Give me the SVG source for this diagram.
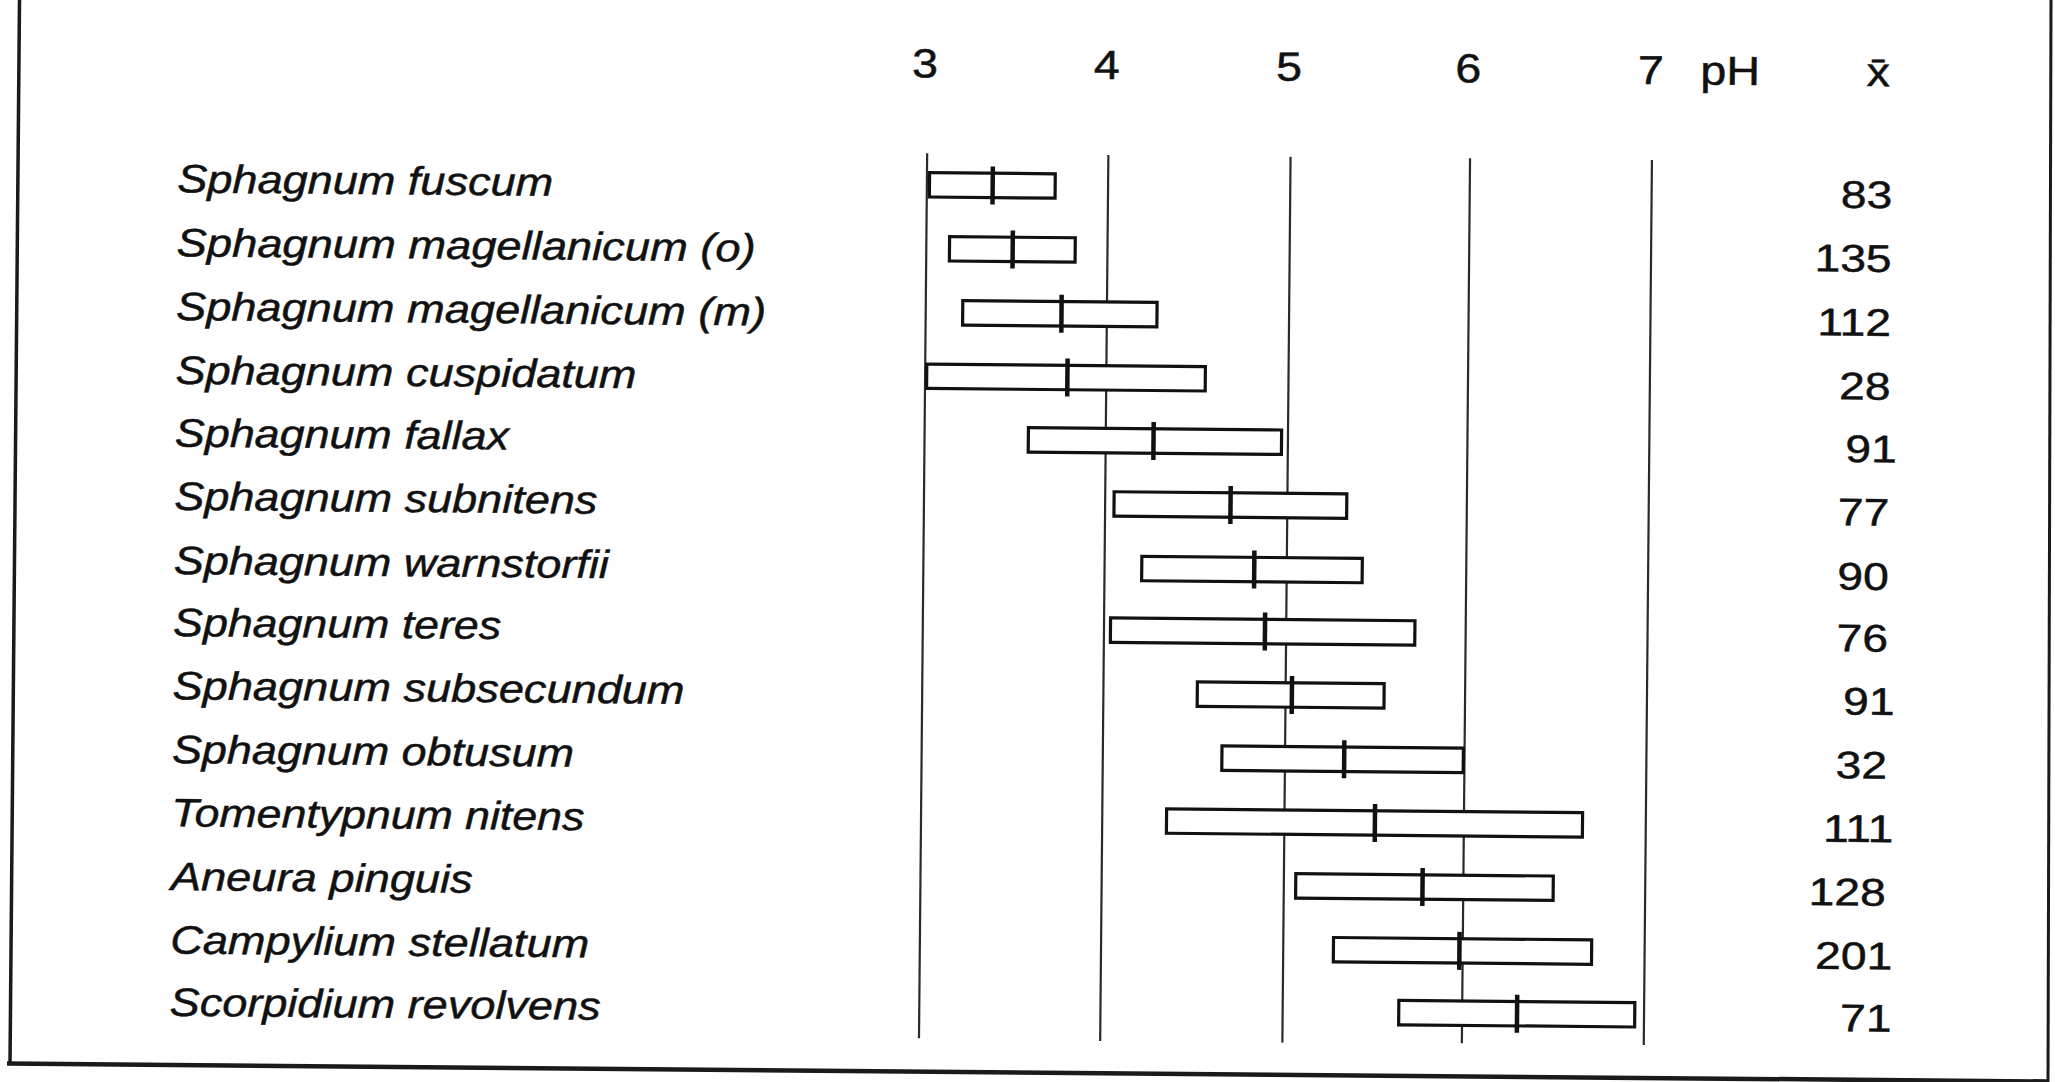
<svg xmlns="http://www.w3.org/2000/svg" width="2055" height="1082" viewBox="0 0 2055 1082">
<style>
.lbl{font-family:"Liberation Sans",Arial,sans-serif;font-style:italic;font-size:39.5px;fill:#111;stroke:#111;stroke-width:0.5}
.num{font-family:"Liberation Sans",Arial,sans-serif;font-size:38.5px;fill:#111;stroke:#111;stroke-width:0.5;text-anchor:end}
.hdr{font-family:"Liberation Sans",Arial,sans-serif;font-size:40.5px;fill:#111;stroke:#111;stroke-width:0.5;text-anchor:middle}
.box{fill:#fff;stroke:#111;stroke-width:3.2}
.med{stroke:#111;stroke-width:4.5}
.grid{stroke:#2a2a2a;stroke-width:2.2}
.frame{stroke:#1a1a1a;fill:none}
</style>
<rect x="0" y="0" width="2055" height="1082" fill="#fff"/>
<g id="frame">
<line class="frame" x1="19.5" y1="0" x2="10" y2="1064" stroke-width="3.5"/>
<line class="frame" x1="7" y1="1063.5" x2="2048" y2="1081.5" stroke-width="4.5"/>
<line class="frame" x1="2051" y1="0" x2="2048" y2="1082" stroke-width="3"/>
</g>
<g transform="rotate(0.53 1000 540)">
<g id="axis-header">
<text class="hdr" transform="translate(920.7,78) scale(1.15,1)">3</text>
<text class="hdr" transform="translate(1102.4,78) scale(1.15,1)">4</text>
<text class="hdr" transform="translate(1284.8,78) scale(1.15,1)">5</text>
<text class="hdr" transform="translate(1464,78) scale(1.15,1)">6</text>
<text class="hdr" transform="translate(1646.5,78) scale(1.15,1)">7</text>
<text class="hdr" transform="translate(1725.8,78) scale(1.15,1)">pH</text>
<text class="hdr" transform="translate(1874,78) scale(1.15,1)">x̄</text>
</g>
<g id="connectors">
<line class="grid" x1="923.6" y1="154" x2="923.6" y2="1039"/>
<line class="grid" x1="1104.8" y1="154" x2="1104.8" y2="1040"/>
<line class="grid" x1="1287" y1="154" x2="1287" y2="1040"/>
<line class="grid" x1="1466.5" y1="154" x2="1466.5" y2="1039"/>
<line class="grid" x1="1648.4" y1="154" x2="1648.4" y2="1039"/>
</g>
<g id="row1">
<text class="lbl" x="174" y="200" textLength="376" lengthAdjust="spacingAndGlyphs">Sphagnum fuscum</text>
<rect class="box" x="926.2" y="173.3" width="125.7" height="24.4"/>
<line class="med" x1="989.4" y1="166.5" x2="989.4" y2="204.5"/>
<text class="num" transform="translate(1889,200) scale(1.2,1)">83</text>
</g>
<g id="row2">
<text class="lbl" x="174" y="263.8" textLength="579" lengthAdjust="spacingAndGlyphs">Sphagnum magellanicum (o)</text>
<rect class="box" x="946.8" y="237.1" width="125.7" height="24.4"/>
<line class="med" x1="1010" y1="230.3" x2="1010" y2="268.3"/>
<text class="num" transform="translate(1889,263.8) scale(1.2,1)">135</text>
</g>
<g id="row3">
<text class="lbl" x="174" y="327.7" textLength="590" lengthAdjust="spacingAndGlyphs">Sphagnum magellanicum (m)</text>
<rect class="box" x="960.6" y="301" width="194.3" height="24.4"/>
<line class="med" x1="1059.4" y1="294.2" x2="1059.4" y2="332.2"/>
<text class="num" transform="translate(1889,327.7) scale(1.2,1)">112</text>
</g>
<g id="row4">
<text class="lbl" x="174" y="391.4" textLength="461" lengthAdjust="spacingAndGlyphs">Sphagnum cuspidatum</text>
<rect class="box" x="925.2" y="364.7" width="278.6" height="24.4"/>
<line class="med" x1="1065.9" y1="357.9" x2="1065.9" y2="395.9"/>
<text class="num" transform="translate(1889,391.4) scale(1.2,1)">28</text>
</g>
<g id="row5">
<text class="lbl" x="174" y="454.1" textLength="334" lengthAdjust="spacingAndGlyphs">Sphagnum fallax</text>
<rect class="box" x="1027.4" y="427.4" width="253.2" height="24.4"/>
<line class="med" x1="1152.6" y1="420.6" x2="1152.6" y2="458.6"/>
<text class="num" transform="translate(1896,454.1) scale(1.2,1)">91</text>
</g>
<g id="row6">
<text class="lbl" x="174" y="517.4" textLength="423" lengthAdjust="spacingAndGlyphs">Sphagnum subnitens</text>
<rect class="box" x="1113.7" y="490.7" width="232.7" height="24.4"/>
<line class="med" x1="1230.2" y1="483.9" x2="1230.2" y2="521.9"/>
<text class="num" transform="translate(1889,517.4) scale(1.2,1)">77</text>
</g>
<g id="row7">
<text class="lbl" x="174" y="581.7" textLength="435" lengthAdjust="spacingAndGlyphs">Sphagnum warnstorfii</text>
<rect class="box" x="1142" y="555" width="220.5" height="24.4"/>
<line class="med" x1="1254.5" y1="548.2" x2="1254.5" y2="586.2"/>
<text class="num" transform="translate(1889,581.7) scale(1.2,1)">90</text>
</g>
<g id="row8">
<text class="lbl" x="174" y="643.6" textLength="328" lengthAdjust="spacingAndGlyphs">Sphagnum teres</text>
<rect class="box" x="1111.3" y="616.9" width="304.4" height="24.4"/>
<line class="med" x1="1265.8" y1="610.1" x2="1265.8" y2="648.1"/>
<text class="num" transform="translate(1889,643.6) scale(1.2,1)">76</text>
</g>
<g id="row9">
<text class="lbl" x="174" y="706.8" textLength="512" lengthAdjust="spacingAndGlyphs">Sphagnum subsecundum</text>
<rect class="box" x="1198.7" y="680.1" width="186.8" height="24.4"/>
<line class="med" x1="1293.3" y1="673.3" x2="1293.3" y2="711.3"/>
<text class="num" transform="translate(1896,706.8) scale(1.2,1)">91</text>
</g>
<g id="row10">
<text class="lbl" x="174" y="770.6" textLength="402" lengthAdjust="spacingAndGlyphs">Sphagnum obtusum</text>
<rect class="box" x="1223.9" y="743.9" width="241.4" height="24.4"/>
<line class="med" x1="1346.2" y1="737.1" x2="1346.2" y2="775.1"/>
<text class="num" transform="translate(1889,770.6) scale(1.2,1)">32</text>
</g>
<g id="row11">
<text class="lbl" x="174" y="834" textLength="413" lengthAdjust="spacingAndGlyphs">Tomentypnum nitens</text>
<rect class="box" x="1169.1" y="807.3" width="416" height="24.4"/>
<line class="med" x1="1377.5" y1="800.5" x2="1377.5" y2="838.5"/>
<text class="num" transform="translate(1896,834) scale(1.2,1)">111</text>
</g>
<g id="row12">
<text class="lbl" x="174" y="897.6" textLength="302" lengthAdjust="spacingAndGlyphs">Aneura pinguis</text>
<rect class="box" x="1298.9" y="870.9" width="257.5" height="24.4"/>
<line class="med" x1="1425.7" y1="864.1" x2="1425.7" y2="902.1"/>
<text class="num" transform="translate(1889,897.6) scale(1.2,1)">128</text>
</g>
<g id="row13">
<text class="lbl" x="174" y="961.1" textLength="419" lengthAdjust="spacingAndGlyphs">Campylium stellatum</text>
<rect class="box" x="1337.2" y="934.4" width="258.2" height="24.4"/>
<line class="med" x1="1463.2" y1="927.6" x2="1463.2" y2="965.6"/>
<text class="num" transform="translate(1896,961.1) scale(1.2,1)">201</text>
</g>
<g id="row14">
<text class="lbl" x="174" y="1023.4" textLength="431" lengthAdjust="spacingAndGlyphs">Scorpidium revolvens</text>
<rect class="box" x="1403.1" y="996.7" width="236" height="24.4"/>
<line class="med" x1="1521.4" y1="989.9" x2="1521.4" y2="1027.9"/>
<text class="num" transform="translate(1896,1023.4) scale(1.2,1)">71</text>
</g>
</g>
</svg>
